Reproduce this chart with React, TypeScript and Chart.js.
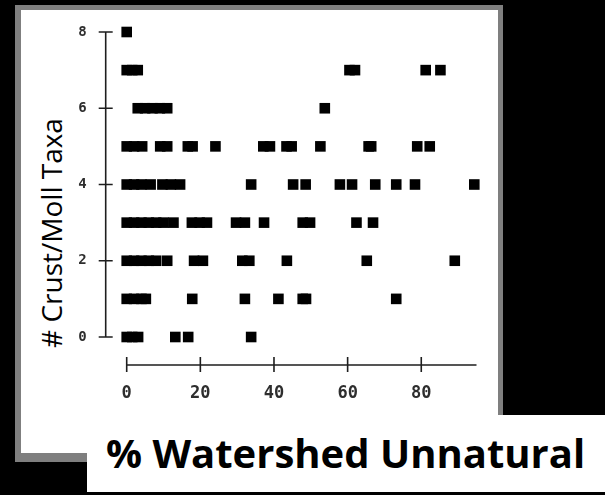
import { useEffect, useRef } from "react";
import { Chart, registerables } from "chart.js";

Chart.register(...registerables);

// Tick labels
const xTickValues = [0, 20, 40, 60, 80];
const yTickValues = [0, 2, 4, 6, 8];
const xMax = 95;
const yMax = 8;

// % watershed unnatural for each number of crustacean/mollusc taxa
const taxa0 = [0, 1.5, 3.1, 13.2, 16.7, 33.8];
const taxa1 = [0, 2, 4, 5.2, 17.8, 32.1, 41.2, 47.8, 48.7, 73.2];
const taxa2 = [0, 2, 4, 6, 8, 11, 18.3, 20.7, 31.4, 33.3, 43.5, 65.2, 89.1];
const taxa3 = [0, 2, 4, 6, 8, 10, 12.7, 17.7, 19.8, 21.8, 29.7, 32.1, 37.3, 47.8, 49.8, 62.4, 66.9];
const taxa4 = [0, 2, 4, 6.5, 9.7, 12, 14.5, 33.8, 45.2, 48.6, 57.9, 61.2, 67.5, 73.2, 78.3, 94.4];
const taxa5 = [0, 2, 4.2, 9.1, 11, 16.6, 17.9, 24.1, 37.1, 38.9, 43.4, 44.8, 52.6, 65.7, 66.4, 78.9, 82.3];
const taxa6 = [3, 5, 7, 9, 11, 53.8];
const taxa7 = [0, 1.5, 3, 60.5, 62, 81.2, 85.2];
const taxa8 = [0];

const taxaRows = [taxa0, taxa1, taxa2, taxa3, taxa4, taxa5, taxa6, taxa7, taxa8];

const xTitle = "% Watershed Unnatural";
const yTitle = "# Crust/Moll Taxa";

export default function App() {
  const canvasRef = useRef<HTMLCanvasElement>(null);

  useEffect(() => {
    if (!canvasRef.current) return;
    const points = taxaRows.flatMap((xs, count) => xs.map((x) => ({ x, y: count })));

    const detachedAxes = {
      id: "detachedAxes",
      beforeDatasetsDraw(chart: any) {
        const { ctx, chartArea, scales } = chart;
        const xs = scales.x;
        const ys = scales.y;
        ctx.save();
        ctx.strokeStyle = "#1e1e1e";
        ctx.lineWidth = 1.6;
        ctx.beginPath();
        const ax = chartArea.left - 21;
        ctx.moveTo(ax, ys.getPixelForValue(yMax));
        ctx.lineTo(ax, ys.getPixelForValue(0));
        yTickValues.forEach((v) => {
          const py = ys.getPixelForValue(v);
          ctx.moveTo(ax - 7, py);
          ctx.lineTo(ax + 7, py);
        });
        const ay = chartArea.bottom + 28;
        ctx.moveTo(xs.getPixelForValue(0), ay);
        ctx.lineTo(xs.getPixelForValue(xMax), ay);
        xTickValues.forEach((v) => {
          const px = xs.getPixelForValue(v);
          ctx.moveTo(px, ay - 8);
          ctx.lineTo(px, ay + 7);
        });
        ctx.stroke();
        ctx.restore();
      },
    };

    const chart = new Chart(canvasRef.current, {
      type: "scatter",
      data: {
        datasets: [
          {
            data: points,
            backgroundColor: "#000000",
            borderColor: "#000000",
            pointBackgroundColor: "#000000",
            pointBorderWidth: 0,
            borderWidth: 0,
            pointStyle: "rect",
            pointRadius: 7.5,
            pointHoverRadius: 7.5,
            clip: false as any,
          },
        ],
      },
      options: {
        animation: false,
        responsive: false,
        events: [],
        layout: { autoPadding: false, padding: { left: 66.7, right: 128.5, top: 32, bottom: 78 } },
        plugins: { legend: { display: false }, tooltip: { enabled: false } },
        scales: {
          x: {
            type: "linear",
            min: 0,
            max: xMax,
            grid: { display: false },
            border: { display: false },
            afterBuildTicks: (s: any) => {
              s.ticks = xTickValues.map((v) => ({ value: v }));
            },
            afterFit: (s: any) => {
              s.height = 80;
              s.paddingLeft = 0;
              s.paddingRight = 0;
            },
            ticks: {
              padding: 38,
              color: "#2e2e2e",
              font: { family: "'DejaVu Sans Mono', monospace", size: 17, weight: "bold" },
            },
          },
          y: {
            type: "linear",
            min: 0,
            max: yMax,
            grid: { display: false },
            border: { display: false },
            afterBuildTicks: (s: any) => {
              s.ticks = yTickValues.map((v) => ({ value: v }));
            },
            afterFit: (s: any) => {
              s.width = 60;
              s.paddingTop = 0;
              s.paddingBottom = 0;
            },
            ticks: {
              padding: 32,
              color: "#2e2e2e",
              font: { family: "'DejaVu Sans Mono', monospace", size: 14, weight: "bold" },
            },
          },
        },
      },
      plugins: [detachedAxes],
    });
    return () => chart.destroy();
  }, []);

  return (
    <div style={{ position: "fixed", left: 0, top: 0, width: 605, height: 495, background: "#000", overflow: "hidden" }}>
      <div style={{ position: "absolute", left: 15, top: 5, width: 488, height: 457, background: "#7f7f7f" }} />
      <div style={{ position: "absolute", left: 21, top: 10, width: 477, height: 443, background: "#fff" }} />
      <div style={{ position: "absolute", left: 87, top: 415, width: 518, height: 77, background: "#fff" }} />
      <div
        style={{
          position: "absolute",
          left: 106,
          top: 425,
          whiteSpace: "nowrap",
          fontFamily: "'Open Sans', sans-serif",
          fontWeight: 700,
          fontSize: 40,
          color: "#000",
        }}
      >
        {xTitle}
      </div>
      <div
        style={{
          position: "absolute",
          left: 51,
          top: 233,
          transform: "translate(-50%, -50%) rotate(-90deg)",
          whiteSpace: "nowrap",
          fontFamily: "'Open Sans', sans-serif",
          fontSize: 28,
          color: "#000",
        }}
      >
        {yTitle}
      </div>
      <canvas ref={canvasRef} width={605} height={495} style={{ position: "absolute", left: 0, top: 0 }} />
    </div>
  );
}
